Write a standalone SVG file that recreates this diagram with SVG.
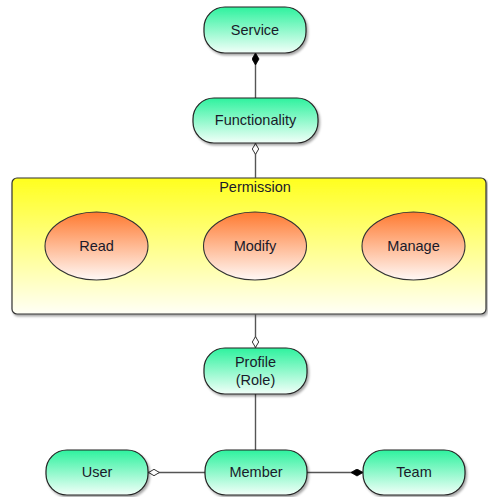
<svg xmlns="http://www.w3.org/2000/svg" width="488" height="497" viewBox="0 0 488 497">
  <defs>
    <linearGradient id="gGreen" x1="0" y1="0" x2="0" y2="1">
      <stop offset="0" stop-color="#2ef29e"/>
      <stop offset="1" stop-color="#f2fff9"/>
    </linearGradient>
    <linearGradient id="gOrange" x1="0" y1="0" x2="0" y2="1">
      <stop offset="0" stop-color="#ff7a30"/>
      <stop offset="1" stop-color="#fff8f6"/>
    </linearGradient>
    <linearGradient id="gYellow" x1="0" y1="0" x2="0" y2="1">
      <stop offset="0" stop-color="#ffff1e"/>
      <stop offset="1" stop-color="#fffff6"/>
    </linearGradient>
    <filter id="shadow" x="-10%" y="-10%" width="125%" height="130%">
      <feDropShadow dx="1.5" dy="2" stdDeviation="1.2" flood-color="#000" flood-opacity="0.35"/>
    </filter>
    <marker id="diamondFilled" viewBox="0 0 12 8" refX="12" refY="4" markerWidth="12" markerHeight="8" markerUnits="userSpaceOnUse" orient="auto">
      <path d="M0,4 L6,0.5 L12,4 L6,7.5 Z" fill="#000" stroke="#000" stroke-width="0.8"/>
    </marker>
    <marker id="diamondOpen" viewBox="0 0 12 8" refX="12" refY="4" markerWidth="12" markerHeight="8" markerUnits="userSpaceOnUse" orient="auto">
      <path d="M0.6,4 L6,0.8 L11.4,4 L6,7.2 Z" fill="#fff" stroke="#333" stroke-width="1"/>
    </marker>
  </defs>
  <style>
    .conn { stroke: #555; stroke-width: 1.4; fill: none; }
    .pill { fill: url(#gGreen); stroke: #222; stroke-width: 1.2; filter: url(#shadow); }
    .oval { fill: url(#gOrange); stroke: #333; stroke-width: 1.1; }
    .group { fill: url(#gYellow); stroke: #333; stroke-width: 1.2; filter: url(#shadow); }
    text { font-family: "Liberation Sans", Arial, sans-serif; font-size: 14.5px; fill: #1a1a2a; text-anchor: middle; }
  </style>

  <!-- container for permission kinds -->
  <g id="permission">
    <rect class="group" x="12" y="178" width="474" height="136" rx="5"/>
    <text x="255" y="192">Permission</text>
  </g>

  <!-- connectors -->
  <g id="connectors">
    <line class="conn" x1="255.5" y1="98" x2="255.5" y2="53" marker-end="url(#diamondFilled)"/>
    <line class="conn" x1="255.5" y1="178" x2="255.5" y2="143" marker-end="url(#diamondOpen)"/>
    <line class="conn" x1="255.5" y1="314" x2="255.5" y2="348" marker-end="url(#diamondOpen)"/>
    <line class="conn" x1="255.5" y1="394" x2="255.5" y2="450"/>
    <line class="conn" x1="205" y1="472.5" x2="148" y2="472.5" marker-end="url(#diamondOpen)"/>
    <line class="conn" x1="307" y1="472.5" x2="363" y2="472.5" marker-end="url(#diamondFilled)"/>
  </g>

  <g id="service">
    <rect class="pill" x="204" y="7" width="102" height="46" rx="21"/>
    <text x="255" y="35">Service</text>
  </g>
  <g id="functionality">
    <rect class="pill" x="193" y="98" width="125" height="45" rx="21"/>
    <text x="255.5" y="125">Functionality</text>
  </g>

  <g id="read">
    <ellipse class="oval" cx="96.5" cy="246" rx="51.5" ry="34"/>
    <text x="96.5" y="251">Read</text>
  </g>
  <g id="modify">
    <ellipse class="oval" cx="255" cy="246" rx="51.5" ry="34"/>
    <text x="255" y="251">Modify</text>
  </g>
  <g id="manage">
    <ellipse class="oval" cx="413.5" cy="246" rx="51.5" ry="34"/>
    <text x="413.5" y="251">Manage</text>
  </g>

  <g id="profile">
    <rect class="pill" x="204" y="348" width="103" height="46" rx="21"/>
    <text x="255.5" y="367">Profile</text>
    <text x="255.5" y="385">(Role)</text>
  </g>

  <g id="user">
    <rect class="pill" x="46" y="450" width="102" height="45" rx="21"/>
    <text x="97" y="477">User</text>
  </g>
  <g id="member">
    <rect class="pill" x="205" y="450" width="102" height="45" rx="21"/>
    <text x="256" y="477">Member</text>
  </g>
  <g id="team">
    <rect class="pill" x="363" y="450" width="102" height="45" rx="21"/>
    <text x="414" y="477">Team</text>
  </g>
</svg>
